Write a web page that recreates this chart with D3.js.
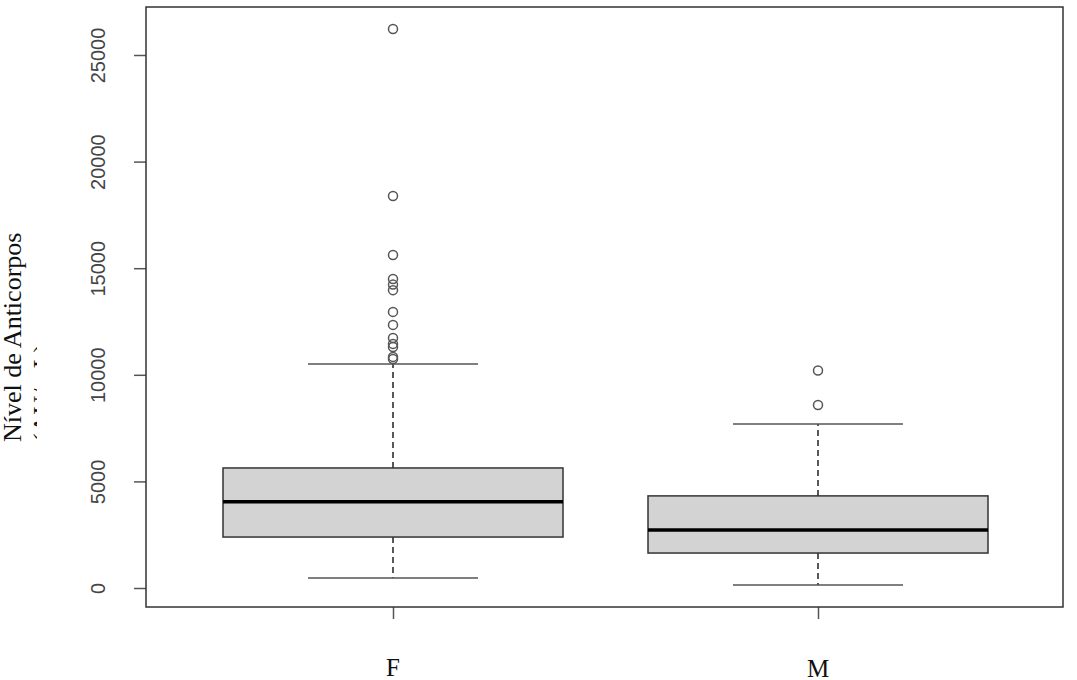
<!DOCTYPE html>
<meta charset="utf-8">
<style>
 body { margin: 0; background: #fff; }
 .tick text { font-family: "Liberation Sans", Arial, sans-serif; }
</style>
<body>
<script src="https://d3js.org/d3.v7.min.js"></script>
<script>

 // group labels
 var groups = ["F", "M"];
 // box stats: lower whisker, Q1, median, Q3, upper whisker
 var lowWhisker = [470, 140];
 var q1 = [2390, 1640];
 var median = [4040, 2720];
 var q3 = [5630, 4320];
 var highWhisker = [10510, 7690];
 // outliers per group
 var outliersF = [26220, 18390, 15620, 14490, 14230, 13970, 12950, 12340, 11730, 11450, 11300, 10840, 10740];
 var outliersM = [10200, 8580];
 var yTicks = [0, 5000, 10000, 15000, 20000, 25000];

 var W = 1077, H = 680;
 var plot = {left: 146, top: 7, right: 1063, bottom: 607};

 var svg = d3.select("body").append("svg")
             .attr("width", W)
             .attr("height", H);

 var y = d3.scaleLinear()
           .domain([0, 25000])
           .range([588, 55]);

 var x = d3.scalePoint()
           .domain(groups)
           .range([393, 818]);

 var boxHalf = 170, capHalf = 85;

 // y axis
 var gY = svg.append("g")
             .attr("transform", "translate(" + plot.left + ",0)")
             .call(d3.axisLeft(y).tickValues(yTicks).tickSize(12).tickFormat(d3.format("d")));
 gY.select(".domain").remove();
 gY.selectAll(".tick line").attr("stroke", "#555").attr("stroke-width", 1.5);
 gY.selectAll(".tick text")
   .attr("transform", "rotate(-90)")
   .attr("x", 0)
   .attr("y", -41)
   .attr("dy", 0)
   .attr("text-anchor", "middle")
   .attr("fill", "#444")
   .style("font-size", "20px");

 // x axis
 var gX = svg.append("g")
             .attr("transform", "translate(0," + plot.bottom + ")")
             .call(d3.axisBottom(x).tickSize(12).tickFormat(""));
 gX.select(".domain").remove();
 gX.selectAll(".tick line").attr("stroke", "#555").attr("stroke-width", 1.5);

 svg.selectAll(".xlab")
    .data(groups)
    .enter().append("text")
    .attr("class", "xlab")
    .attr("x", function(d) { return x(d); })
    .attr("y", function(d, i) { return i === 0 ? 676 : 677; })
    .attr("text-anchor", "middle")
    .style("font-family", "'Liberation Serif', 'Times New Roman', serif")
    .style("font-size", "25px")
    .attr("fill", "#111")
    .text(function(d) { return d; });

 // y title (second line clipped like in the original)
 svg.append("clipPath").attr("id", "tclip")
    .append("rect").attr("x", 0).attr("y", 0).attr("width", 37).attr("height", H);

 var title = svg.append("g")
    .attr("clip-path", "url(#tclip)")
    .append("text")
    .attr("transform", "translate(21,442) rotate(-90)")
    .style("font-family", "'Liberation Serif', 'Times New Roman', serif")
    .style("font-size", "26px")
    .attr("fill", "#111");
 title.append("tspan").attr("x", 0).attr("dy", 0).text("Nível de Anticorpos");
 title.append("tspan").attr("x", 0).attr("dy", 30).text("(AU/mL)");

 // boxes
 var boxes = svg.selectAll(".box")
    .data(groups)
    .enter().append("g")
    .attr("class", "box");

 boxes.append("line")
      .attr("x1", function(d) { return x(d); })
      .attr("x2", function(d) { return x(d); })
      .attr("y1", function(d, i) { return y(q3[i]); })
      .attr("y2", function(d, i) { return y(highWhisker[i]); })
      .attr("stroke", "#222").attr("stroke-width", 1.5).attr("stroke-dasharray", "6,4");
 boxes.append("line")
      .attr("x1", function(d) { return x(d); })
      .attr("x2", function(d) { return x(d); })
      .attr("y1", function(d, i) { return y(q1[i]); })
      .attr("y2", function(d, i) { return y(lowWhisker[i]); })
      .attr("stroke", "#222").attr("stroke-width", 1.5).attr("stroke-dasharray", "6,4");

 [highWhisker, lowWhisker].forEach(function(arr) {
     boxes.append("line")
          .attr("x1", function(d) { return x(d) - capHalf; })
          .attr("x2", function(d) { return x(d) + capHalf; })
          .attr("y1", function(d, i) { return y(arr[i]); })
          .attr("y2", function(d, i) { return y(arr[i]); })
          .attr("stroke", "#555").attr("stroke-width", 1.5);
 });

 boxes.append("rect")
      .attr("x", function(d) { return x(d) - boxHalf; })
      .attr("width", boxHalf * 2)
      .attr("y", function(d, i) { return y(q3[i]); })
      .attr("height", function(d, i) { return y(q1[i]) - y(q3[i]); })
      .attr("fill", "#d3d3d3")
      .attr("stroke", "#333").attr("stroke-width", 1.5);

 boxes.append("line")
      .attr("x1", function(d) { return x(d) - boxHalf; })
      .attr("x2", function(d) { return x(d) + boxHalf; })
      .attr("y1", function(d, i) { return y(median[i]); })
      .attr("y2", function(d, i) { return y(median[i]); })
      .attr("stroke", "#000").attr("stroke-width", 3.5);

 // outliers
 var outs = [];
 outliersF.forEach(function(v) { outs.push({g: "F", v: v}); });
 outliersM.forEach(function(v) { outs.push({g: "M", v: v}); });
 svg.selectAll(".out")
    .data(outs)
    .enter().append("circle")
    .attr("class", "out")
    .attr("cx", function(d) { return x(d.g); })
    .attr("cy", function(d) { return y(d.v); })
    .attr("r", 4.5)
    .attr("fill", "none")
    .attr("stroke", "#555")
    .attr("stroke-width", 1.5);

 // frame
 svg.append("rect")
    .attr("x", plot.left).attr("y", plot.top)
    .attr("width", plot.right - plot.left)
    .attr("height", plot.bottom - plot.top)
    .attr("fill", "none")
    .attr("stroke", "#333").attr("stroke-width", 1.5);

</script>
